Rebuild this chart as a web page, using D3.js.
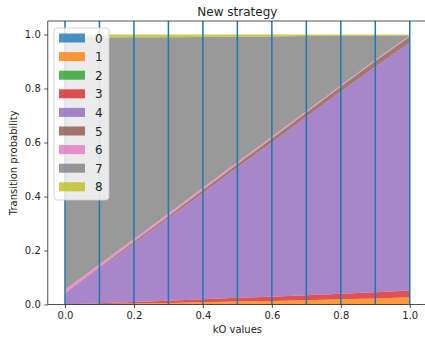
<!DOCTYPE html>
<html><head><meta charset="utf-8">
<script src="https://cdn.jsdelivr.net/npm/d3@7"></script>
<style>body{margin:0;background:#fff}svg{display:block;font-family:"DejaVu Sans",sans-serif}</style>
</head><body><svg id="c" width="425" height="340"></svg>
<script>
const xValues = [0,0.1,0.2,0.3,0.4,0.5,0.6,0.7,0.8,0.9,1.0];
const seriesNames = ["0","1","2","3","4","5","6","7","8"];
const s0 = [0,0,0,0,0,0,0,0,0,0,0];
const s1 = [0,0.002,0.004,0.006,0.008,0.011,0.013,0.016,0.019,0.022,0.027];
const s2 = [0,0,0,0,0,0,0,0,0,0,0];
const s3 = [0,0.003,0.005,0.008,0.011,0.014,0.016,0.018,0.021,0.023,0.025];
const s4 = [0.04,0.128,0.217,0.305,0.394,0.482,0.571,0.66,0.748,0.836,0.917];
const s5 = [0.003,0.005,0.007,0.009,0.011,0.013,0.015,0.017,0.019,0.021,0.024];
const s6 = [0.012,0.011,0.010,0.009,0.008,0.007,0.006,0.005,0.004,0.004,0.003];
const s8 = [0.012,0.011,0.010,0.010,0.009,0.008,0.007,0.006,0.005,0.005,0.004];
const s7 = xValues.map((_, i) => 1 - (s0[i]+s1[i]+s2[i]+s3[i]+s4[i]+s5[i]+s6[i]+s8[i]));
const seriesValues = [s0,s1,s2,s3,s4,s5,s6,s7,s8];
const colors = ["#1f77b4","#ff7f0e","#2ca02c","#d62728","#9467bd","#8c564b","#e377c2","#7f7f7f","#bcbd22"];
const xTicks = [0,0.2,0.4,0.6,0.8,1.0];
const yTicks = [0,0.2,0.4,0.6,0.8,1.0];

const svg = d3.select("#c");
const L = 47.75, R = 427, T = 21, B = 304.5;
const x = d3.scaleLinear().domain([-0.05,1.05]).range([L,R]);
const y = d3.scaleLinear().domain([0,1.05]).range([B,T]);

const rows = xValues.map((xv,i)=>{const o={x:xv}; seriesNames.forEach((n,k)=>o[n]=seriesValues[k][i]); return o;});
const stack = d3.stack().keys(seriesNames)(rows);
const area = d3.area().x(d=>x(d.data.x)).y0(d=>y(d[0])).y1(d=>y(d[1]));
svg.append("g").selectAll("path").data(stack).join("path")
  .attr("d",area).attr("fill",(d,i)=>colors[i]).attr("fill-opacity",0.8);

// vertical lines
svg.append("g").selectAll("line").data(xValues).join("line")
  .attr("x1",d=>x(d)).attr("x2",d=>x(d)).attr("y1",T).attr("y2",B)
  .attr("stroke","#1f77b4").attr("stroke-width",1.5);

// axes
const xa = svg.append("g").attr("transform",`translate(0,${B})`)
  .call(d3.axisBottom(x).tickValues(xTicks).tickFormat(d3.format(".1f")).tickSize(3.5).tickPadding(3.5));
const ya = svg.append("g").attr("transform",`translate(${L},0)`)
  .call(d3.axisLeft(y).tickValues(yTicks).tickFormat(d3.format(".1f")).tickSize(3.5).tickPadding(3.5));
[xa,ya].forEach(g=>{g.select(".domain").remove();
  g.selectAll("text").attr("font-size",10).attr("fill","#262626").attr("font-family","DejaVu Sans");
  g.selectAll("line").attr("stroke","#262626").attr("stroke-width",0.8);});

// spines
const sp = svg.append("g").attr("stroke","#262626").attr("stroke-width",0.8).attr("fill","none");
sp.append("line").attr("x1",L).attr("x2",L).attr("y1",T).attr("y2",B);
sp.append("line").attr("x1",L).attr("x2",R).attr("y1",B).attr("y2",B);
sp.append("line").attr("x1",L).attr("x2",R).attr("y1",T).attr("y2",T);
sp.append("line").attr("x1",R).attr("x2",R).attr("y1",T).attr("y2",B);

// title & labels
const cx = (L+R)/2;
svg.append("text").attr("x",cx).attr("y",16).attr("text-anchor","middle").attr("font-size",12).attr("fill","#262626").text("New strategy");
svg.append("text").attr("x",cx).attr("y",333).attr("text-anchor","middle").attr("font-size",10).attr("fill","#262626").text("kO values");
svg.append("text").attr("transform",`translate(17,${(T+B)/2}) rotate(-90)`).attr("text-anchor","middle").attr("font-size",10).attr("fill","#262626").text("Transition probability");

// legend
const lg = svg.append("g");
lg.append("rect").attr("x",54).attr("y",28).attr("width",55).attr("height",172).attr("rx",3)
  .attr("fill","#fff").attr("fill-opacity",0.8).attr("stroke","#ccc").attr("stroke-width",0.8);
seriesNames.forEach((n,i)=>{
  const yy = 38 + i*18.6;
  lg.append("rect").attr("x",59).attr("y",yy-4.5).attr("width",26).attr("height",9)
    .attr("fill",colors[i]).attr("fill-opacity",0.8);
  lg.append("text").attr("x",95).attr("y",yy+4.5).attr("font-size",12).attr("fill","#262626").text(n);
});
</script></body></html>
